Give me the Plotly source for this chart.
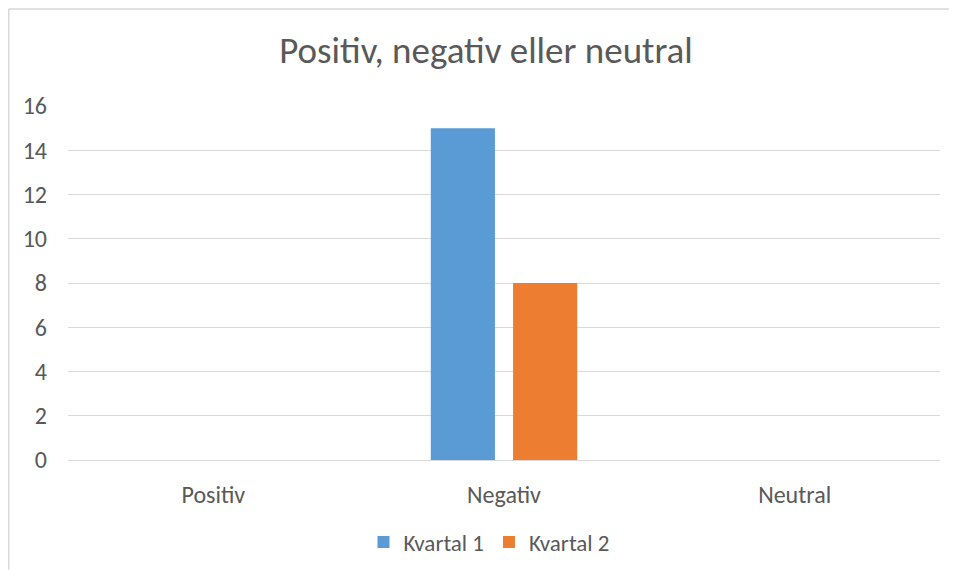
import plotly.graph_objects as go

categories = ["Positiv", "Negativ", "Neutral"]
kvartal1 = [0, 15, 0]
kvartal2 = [0, 8, 0]
y_ticks = [0, 2, 4, 6, 8, 10, 12, 14, 16]

font_family = "Carlito, Calibri, 'Open Sans', 'Liberation Sans', sans-serif"
txt = "#595959"

W, H = 941, 563
L, R, T, B = 60, 9, 98, 110
PW, PH = W - L - R, H - T - B

fig = go.Figure()
fig.add_trace(go.Bar(name="Kvartal 1", x=categories, y=kvartal1, marker_color="#5B9BD5", marker_line_width=0))
fig.add_trace(go.Bar(name="Kvartal 2", x=categories, y=kvartal2, marker_color="#ED7D31", marker_line_width=0))

fig.update_layout(
    width=W, height=H,
    margin=dict(l=L, r=R, t=T, b=B),
    paper_bgcolor="white", plot_bgcolor="white",
    barmode="group", bargap=0.434, bargroupgap=0.22,
    font=dict(family=font_family, color=txt, size=24),
    title=dict(text="Positiv, negativ eller neutral", x=478 / W, xref="container", xanchor="center",
               y=1 - 42 / H, yref="container", yanchor="middle",
               font=dict(size=37, color=txt, family=font_family)),
    legend=dict(orientation="h", x=(481 - L) / PW, xanchor="center", y=-(534 - (T + PH)) / PH, yanchor="middle",
                font=dict(size=23, color=txt), itemwidth=30, traceorder="normal"),
    showlegend=True,
)
fig.update_yaxes(range=[0, 16], tickvals=y_ticks, showgrid=True, gridcolor="#D9D9D9", gridwidth=1,
                 zeroline=False, showline=False, ticks="", ticklabelstandoff=20,
                 tickfont=dict(size=24, color=txt))
fig.update_xaxes(showline=True, linecolor="#D9D9D9", linewidth=1, ticks="", ticklabelstandoff=13,
                 tickfont=dict(size=24, color=txt))
# chart frame: only top and left edges are visible in the cropped reference
fig.add_shape(type="line", xref="paper", yref="paper",
              x0=-(L - 0.75) / PW, x1=(PW + R) / PW, y0=(PH + T - 0.75) / PH, y1=(PH + T - 0.75) / PH,
              line=dict(color="#D9D9D9", width=1.5), layer="below")
fig.add_shape(type="line", xref="paper", yref="paper",
              x0=-(L - 0.75) / PW, x1=-(L - 0.75) / PW, y0=-B / PH, y1=(PH + T - 0.75) / PH,
              line=dict(color="#D9D9D9", width=1.5), layer="below")
fig.write_html("out.html")
